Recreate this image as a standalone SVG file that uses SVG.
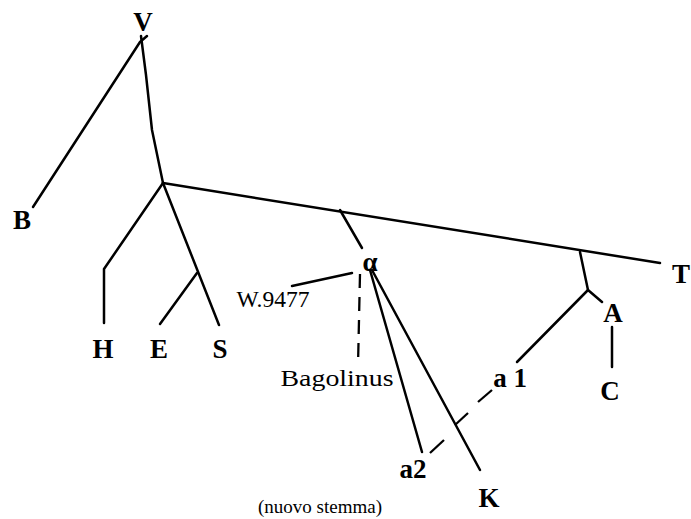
<svg xmlns="http://www.w3.org/2000/svg" width="691" height="519" viewBox="0 0 691 519">
<style>
.e{stroke:#000;stroke-width:2.5;fill:none;stroke-linecap:round;stroke-linejoin:round}
.d{stroke:#000;stroke-width:2.3;fill:none}
.lb{font-family:"Liberation Serif",serif;font-weight:bold;font-size:27px;fill:#000;text-anchor:middle}
.ls{font-family:"Liberation Serif",serif;font-size:23px;fill:#000;text-anchor:middle}
.cap{font-family:"Liberation Serif",serif;font-size:19px;fill:#000;text-anchor:middle}
</style>
<rect width="691" height="519" fill="#fff"/>
<g id="connectors">
<polyline class="e" points="147,36 140,42 33,207"/>
<polyline class="e" points="141,36 146,75 152,130 163,183"/>
<line class="e" x1="163" y1="183" x2="660" y2="263"/>
<polyline class="e" points="163,183 104,269 104,323"/>
<line class="e" x1="163" y1="183" x2="219" y2="325"/>
<line class="e" x1="197" y1="273" x2="160" y2="324"/>
<line class="e" x1="340" y1="210" x2="362" y2="248"/>
<line class="e" x1="352" y1="273" x2="292" y2="286"/>
<line class="d" x1="360" y1="274" x2="358" y2="366" stroke-dasharray="14 9"/>
<line class="e" x1="370" y1="270" x2="422" y2="452"/>
<line class="e" x1="372" y1="270" x2="480" y2="470"/>
<polyline class="e" points="580,252 588,290 602,302"/>
<line class="e" x1="588" y1="290" x2="517" y2="362"/>
<line class="e" x1="612" y1="327" x2="612" y2="367"/>
<line class="d" x1="492" y1="390" x2="478" y2="402"/>
<line class="d" x1="468" y1="413" x2="455" y2="425"/>
<line class="d" x1="444" y1="440" x2="430" y2="453"/>
</g>
<g id="node-V"><text class="lb" x="143" y="31">V</text></g>
<g id="node-B"><text class="lb" x="22" y="229">B</text></g>
<g id="node-T"><text class="lb" x="681" y="283">T</text></g>
<g id="node-H"><text class="lb" x="103" y="358">H</text></g>
<g id="node-E"><text class="lb" x="159" y="358">E</text></g>
<g id="node-S"><text class="lb" x="220" y="358">S</text></g>
<g id="node-alpha"><text class="lb" x="370" y="271" font-size="30">α</text></g>
<g id="node-W9477"><text class="ls" x="273" y="307" textLength="73" lengthAdjust="spacingAndGlyphs">W.9477</text></g>
<g id="node-Bagolinus"><text class="ls" x="337" y="386" textLength="113" lengthAdjust="spacingAndGlyphs">Bagolinus</text></g>
<g id="node-A"><text class="lb" x="613" y="322">A</text></g>
<g id="node-C"><text class="lb" x="610" y="400">C</text></g>
<g id="node-a1"><text class="lb" x="510" y="387">a 1</text></g>
<g id="node-a2"><text class="lb" x="413" y="478">a2</text></g>
<g id="node-K"><text class="lb" x="489" y="507">K</text></g>
<text class="cap" x="320" y="513" textLength="124" lengthAdjust="spacingAndGlyphs">(nuovo stemma)</text>
</svg>
